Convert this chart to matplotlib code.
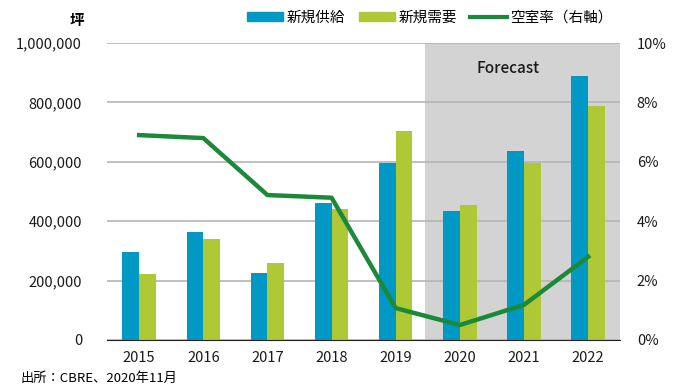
import matplotlib.pyplot as plt
from matplotlib.patches import Patch
from matplotlib.lines import Line2D
import numpy as np

plt.rcParams['font.family'] = ['Noto Sans CJK JP', 'DejaVu Sans']

years = ['2015', '2016', '2017', '2018', '2019', '2020', '2021', '2022']
supply = [295000, 363000, 227000, 461000, 597000, 435000, 636000, 890000]
demand = [222000, 339000, 260000, 440000, 704000, 456000, 597000, 788000]
vacancy = [6.9, 6.8, 4.88, 4.79, 1.07, 0.5, 1.18, 2.8]

blue = '#0099c6'
lime = '#afc936'
green = '#1a8a38'

fig = plt.figure(figsize=(7, 3.92), dpi=100)
ax = fig.add_axes([0.153, 0.133, 0.733, 0.757])
x = np.arange(len(years))
w = 0.26

ax.axvspan(4.45, 7.5, color='#d3d3d3', zorder=0, lw=0)
ax.bar(x - w / 2, supply, w, color=blue, zorder=2)
ax.bar(x + w / 2, demand, w, color=lime, zorder=2)
ax.set_xlim(-0.5, 7.5)
ax.set_ylim(0, 1000000)
ax.set_yticks(range(0, 1000001, 200000))
ax.set_yticklabels([f'{v:,}' for v in range(0, 1000001, 200000)])
ax.set_xticks(x)
ax.set_xticklabels(years)
ax.grid(axis='y', color='#b5b5b5', lw=1.2, zorder=1)
for s in ['top', 'right', 'left']:
    ax.spines[s].set_visible(False)
ax.spines['bottom'].set_color('#222222')
ax.tick_params(length=0, labelsize=10.5, colors='#1a1a1a')
ax.tick_params(axis='y', pad=18)
ax.tick_params(axis='x', pad=8)

ax2 = ax.twinx()
ax2.plot(x, vacancy, color=green, lw=3.2, zorder=3)
ax2.set_ylim(0, 10)
ax2.set_yticks(range(0, 11, 2))
ax2.set_yticklabels([f'{v}%' for v in range(0, 11, 2)])
for s in ax2.spines.values():
    s.set_visible(False)
ax2.tick_params(length=0, labelsize=10.5, colors='#1a1a1a', pad=12)

ax.text(5.75, 915000, 'Forecast', ha='center', va='center', fontsize=11,
        fontweight='medium', color='#1a1a1a', fontstretch='condensed')
fig.text(0.11, 0.95, '坪', ha='center', va='center', fontsize=10.5, fontweight='bold')
fig.text(0.03, 0.035, '出所：CBRE、2020年11月', ha='left', va='center', fontsize=9.5)

handles = [Patch(color=blue), Patch(color=lime), Line2D([], [], color=green, lw=3)]
labels = ['新規供給', '新規需要', '空室率（右軸）']
fig.legend(handles, labels, loc='center', bbox_to_anchor=(0.614, 0.955), ncol=3, frameon=False,
           fontsize=10.5, handlelength=2.5, handleheight=0.6, handletextpad=0.25, columnspacing=0.9)

fig.savefig('out.png', dpi=100)
